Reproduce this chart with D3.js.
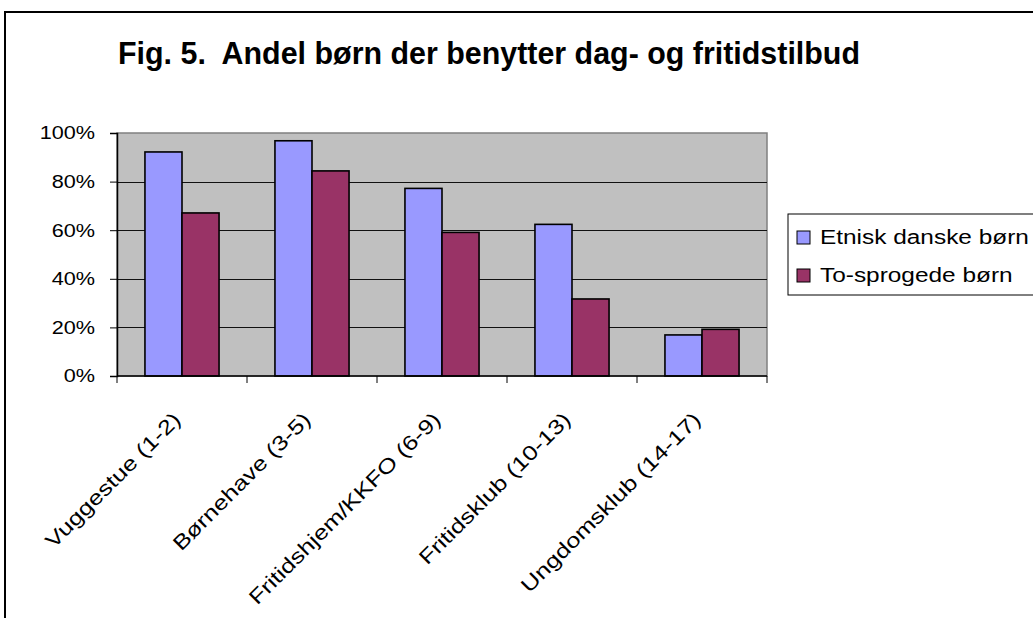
<!DOCTYPE html>
<html>
<head>
<meta charset="utf-8">
<script src="https://cdn.jsdelivr.net/npm/d3@7"></script>
<style>
  body { margin: 0; background: #fff; }
  svg { display: block; font-family: "Liberation Sans", Arial, sans-serif; }
  .title { white-space: pre; }
</style>
</head>
<body>
<div id="chart"></div>
<script>
// Chart data
const categories = ['Vuggestue (1-2)', 'Børnehave (3-5)', 'Fritidshjem/KKFO (6-9)', 'Fritidsklub (10-13)', 'Ungdomsklub (14-17)'];
const seriesNames = ['Etnisk danske børn', 'To-sprogede børn'];
const etniskDanske = [0.922, 0.968, 0.772, 0.624, 0.169];
const toSprogede = [0.671, 0.844, 0.591, 0.317, 0.192];
const yTicks = [0, 0.2, 0.4, 0.6, 0.8, 1.0];
const colors = ['#9999ff', '#993366'];

const width = 1033, height = 618;
const plot = { left: 117, top: 133, right: 767, bottom: 376 };

// widen a text element along its own direction (reference text is drawn wide)
function widen(sel, factor) {
    sel.each(function() {
        const len = this.getComputedTextLength();
        d3.select(this)
            .attr('textLength', len * factor)
            .attr('lengthAdjust', 'spacingAndGlyphs');
    });
}

const svg = d3.select('#chart').append('svg')
    .attr('width', width)
    .attr('height', height);

// Outer frame (runs off the right and bottom edge)
svg.append('rect')
    .attr('x', 5).attr('y', 12)
    .attr('width', 1100).attr('height', 700)
    .attr('fill', '#fff')
    .attr('stroke', '#000')
    .attr('stroke-width', 2);

// Title
svg.append('text')
    .attr('class', 'title')
    .attr('x', 118).attr('y', 64)
    .attr('font-size', 31)
    .attr('font-weight', 'bold')
    .attr('textLength', 742)
    .attr('lengthAdjust', 'spacingAndGlyphs')
    .text('Fig. 5.  Andel børn der benytter dag- og fritidstilbud');

const x0 = d3.scaleBand()
    .domain(categories)
    .range([plot.left, plot.right])
    .paddingInner(0.43)
    .paddingOuter(0.215);

const x1 = d3.scaleBand()
    .domain(seriesNames)
    .range([0, x0.bandwidth()]);

const y = d3.scaleLinear()
    .domain([0, 1])
    .range([plot.bottom, plot.top]);

// Plot area background
svg.append('rect')
    .attr('x', plot.left).attr('y', plot.top)
    .attr('width', plot.right - plot.left)
    .attr('height', plot.bottom - plot.top)
    .attr('fill', '#c0c0c0')
    .attr('stroke', '#808080')
    .attr('stroke-width', 1.5);

// Gridlines
svg.append('g')
    .selectAll('line')
    .data(yTicks.filter(d => d > 0 && d < 1))
    .enter()
    .append('line')
    .attr('x1', plot.left).attr('x2', plot.right)
    .attr('y1', d => Math.round(y(d)) + 0.5)
    .attr('y2', d => Math.round(y(d)) + 0.5)
    .attr('stroke', '#111')
    .attr('stroke-width', 1.2);

// Bars
const series = [etniskDanske, toSprogede];
const groups = svg.append('g')
    .selectAll('g')
    .data(categories)
    .enter()
    .append('g')
    .attr('transform', d => `translate(${x0(d)},0)`);

groups.selectAll('rect')
    .data((d, i) => seriesNames.map((s, k) => ({ s, k, v: series[k][i] })))
    .enter()
    .append('rect')
    .attr('x', d => x1(d.s))
    .attr('y', d => y(d.v))
    .attr('width', x1.bandwidth())
    .attr('height', d => y(0) - y(d.v))
    .attr('fill', d => colors[d.k])
    .attr('stroke', '#000')
    .attr('stroke-width', 1.6);

// Y axis
const yAxis = d3.axisLeft(y)
    .tickValues(yTicks)
    .tickFormat(d3.format('.0%'))
    .tickSize(7)
    .tickPadding(15);

const yg = svg.append('g')
    .attr('transform', `translate(${plot.left},0)`)
    .call(yAxis);
yg.select('.domain').attr('stroke', '#000').attr('stroke-width', 1.5);
yg.selectAll('.tick line').attr('stroke', '#000');
yg.selectAll('text')
    .attr('font-size', 18.5)
    .attr('font-family', '"Liberation Sans", Arial, sans-serif')
    .attr('fill', '#000')
    .call(widen, 1.17);

// X axis: ticks at category boundaries
const step = x0.step();
const boundaries = d3.range(categories.length + 1).map(i => plot.left + i * step);
svg.append('line')
    .attr('x1', plot.left).attr('x2', plot.right)
    .attr('y1', plot.bottom).attr('y2', plot.bottom)
    .attr('stroke', '#000').attr('stroke-width', 1.5);
svg.append('g')
    .selectAll('line')
    .data(boundaries)
    .enter()
    .append('line')
    .attr('x1', d => d).attr('x2', d => d)
    .attr('y1', plot.bottom).attr('y2', plot.bottom + 7)
    .attr('stroke', '#000');

// X labels rotated
svg.append('g')
    .selectAll('text')
    .data(categories)
    .enter()
    .append('text')
    .attr('transform', d => `translate(${x0(d) + x0.bandwidth() / 2},${plot.bottom + 45}) rotate(-45)`)
    .attr('text-anchor', 'end')
    .attr('font-size', 20.5)
    .text(d => d)
    .call(widen, 1.24);

// Legend
const legend = svg.append('g').attr('transform', 'translate(788,214)');
legend.append('rect')
    .attr('x', 0).attr('y', 0)
    .attr('width', 300).attr('height', 81)
    .attr('fill', '#fff')
    .attr('stroke', '#000')
    .attr('stroke-width', 1);

const items = legend.selectAll('g.item')
    .data(seriesNames)
    .enter()
    .append('g')
    .attr('class', 'item')
    .attr('transform', (d, i) => `translate(9,${30 + i * 38})`);

items.append('rect')
    .attr('x', 0).attr('y', -13)
    .attr('width', 13).attr('height', 13)
    .attr('fill', (d, i) => colors[i])
    .attr('stroke', '#000')
    .attr('stroke-width', 1);

items.append('text')
    .attr('x', 23).attr('y', 0)
    .attr('font-size', 20)
    .text(d => d)
    .call(widen, 1.22);
</script>
</body>
</html>
